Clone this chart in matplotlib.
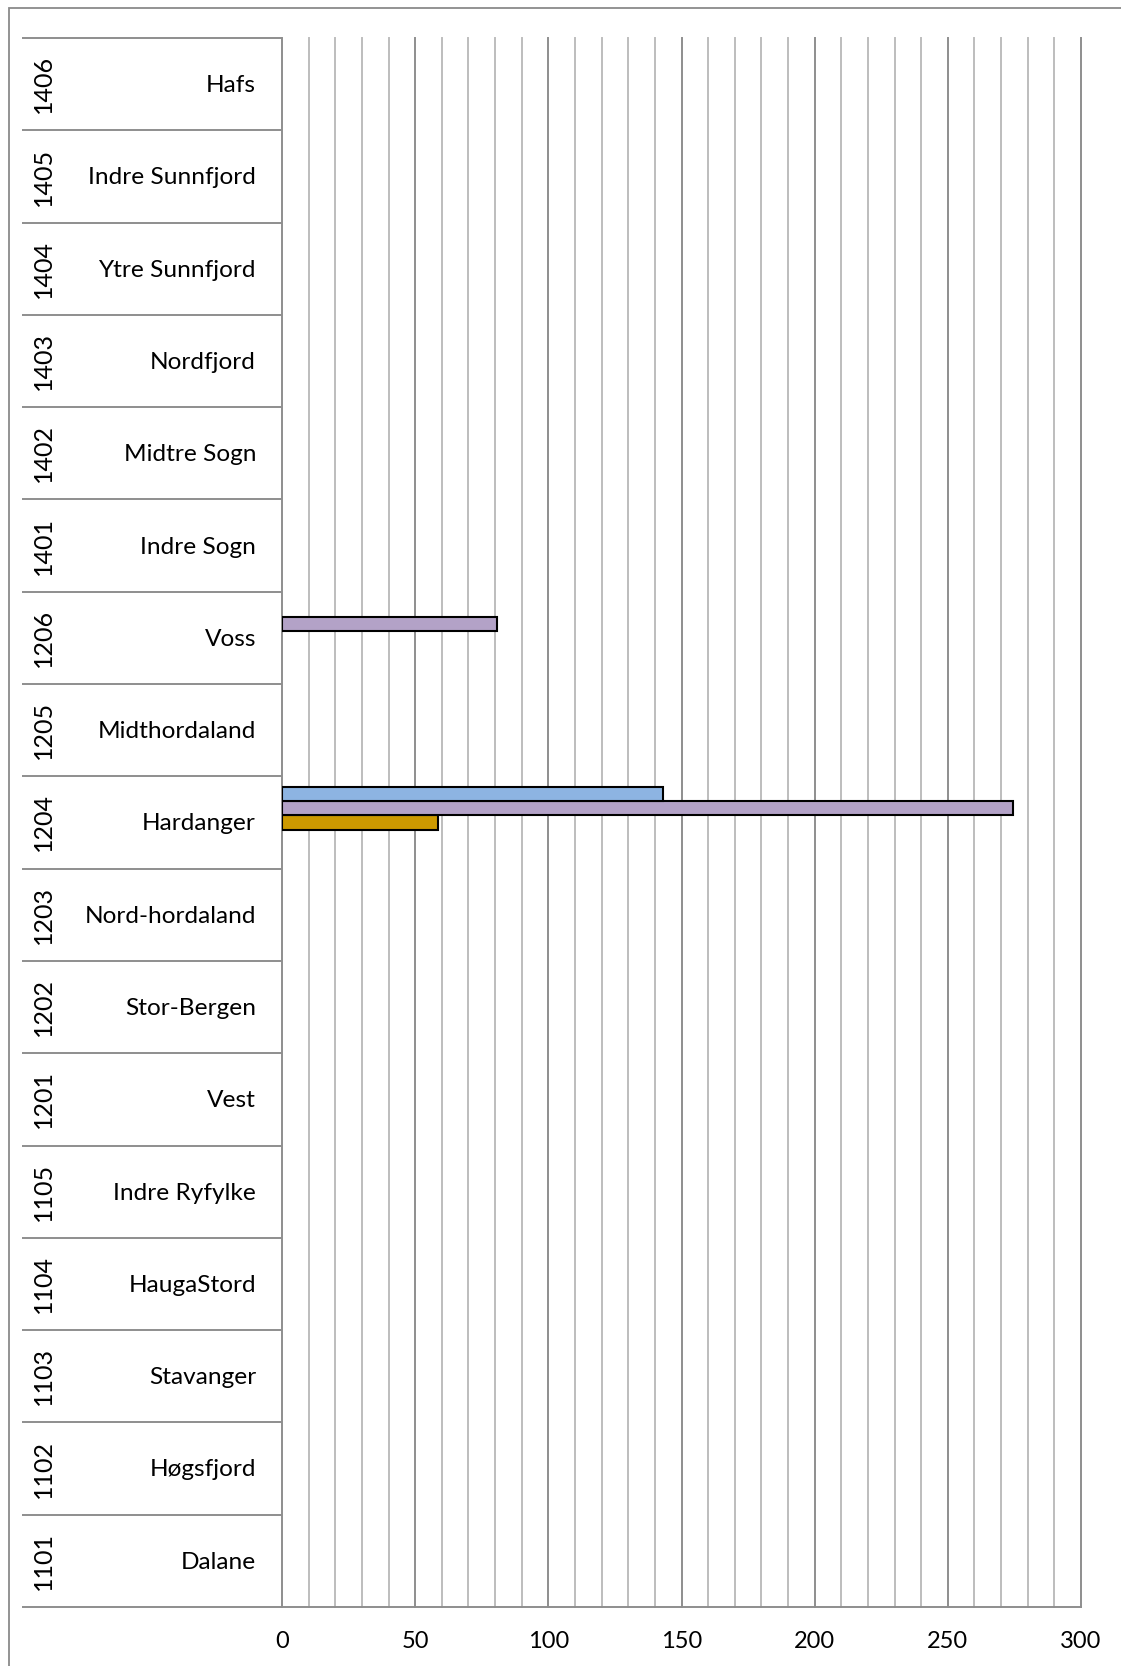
import matplotlib
matplotlib.use("Agg")
import matplotlib.pyplot as plt
from matplotlib.patches import Rectangle
import numpy as np

plt.rcParams["font.family"] = ["Lato", "DejaVu Sans"]

# regions, listed bottom to top as on the category axis
codes = ["1101", "1102", "1103", "1104", "1105", "1201", "1202", "1203", "1204",
         "1205", "1206", "1401", "1402", "1403", "1404", "1405", "1406"]
names = ["Dalane", "Høgsfjord", "Stavanger", "HaugaStord", "Indre Ryfylke", "Vest",
         "Stor-Bergen", "Nord-hordaland", "Hardanger", "Midthordaland", "Voss",
         "Indre Sogn", "Midtre Sogn", "Nordfjord", "Ytre Sunnfjord", "Indre Sunnfjord", "Hafs"]

# five series per region, first one sits lowest in each group
s1 = [0] * 17
s2 = [0] * 17
s3 = [0, 0, 0, 0, 0, 0, 0, 0, 58.6, 0, 0, 0, 0, 0, 0, 0, 0]
s4 = [0, 0, 0, 0, 0, 0, 0, 0, 274.5, 0, 80.7, 0, 0, 0, 0, 0, 0]
s5 = [0, 0, 0, 0, 0, 0, 0, 0, 143, 0, 0, 0, 0, 0, 0, 0, 0]
series = [s1, s2, s3, s4, s5]
colors = ["#4F81BD", "#C0504D", "#CC9900", "#B3A2C7", "#8DB4E2"]

x_ticks = [0, 50, 100, 150, 200, 250, 300]

W, H = 1121, 1666
fig = plt.figure(figsize=(W / 100, H / 100), dpi=100)
left, right, top, bottom = 282, 1081, 38, 1607
ax = fig.add_axes([left / W, 1 - bottom / H, (right - left) / W, (bottom - top) / H])

# outer chart border, open to the right and bottom
fig.patches.append(Rectangle((9 / W, -0.1), 1.2, 1.1 - 8 / H, transform=fig.transFigure,
                             fill=False, edgecolor="#8A8A8A", linewidth=1.3))

y = np.arange(len(codes))
bar_h = 1 / 6.5
for k, (vals, col) in enumerate(zip(series, colors)):
    offs = (k - 2) * bar_h
    v = np.array(vals, dtype=float)
    mask = v > 0
    ax.barh(y[mask] + offs, v[mask], height=bar_h, color=col,
            edgecolor="black", linewidth=1.5, zorder=3)

# vertical gridlines every 10, darker at each 50
for gx in range(10, 301, 10):
    c = "#8E8E8E" if gx % 50 == 0 else "#BDBDBD"
    ax.axvline(gx, color=c, linewidth=1.4, zorder=1, clip_on=False)

ax.set_xlim(0, 300)
ax.set_ylim(-0.5, len(codes) - 0.5)
ax.set_yticks([])
ax.set_xticks(x_ticks)
ax.tick_params(axis="x", length=0, pad=17.5, labelsize=17)
for s in ["top", "right"]:
    ax.spines[s].set_visible(False)
for s in ["left", "bottom"]:
    ax.spines[s].set_color("#8E8E8E")
    ax.spines[s].set_linewidth(1.4)

# category table on the left side
tr = ax.get_yaxis_transform()
x_tab = (22 - left) / (right - left)
for b in np.arange(-0.5, len(codes), 1.0):
    ax.plot([x_tab, 0], [b, b], color="#8E8E8E", lw=1.4,
            transform=tr, clip_on=False, solid_capstyle="butt")

x_name = (256 - left) / (right - left)
x_code = (43 - left) / (right - left)
for yi, code, name in zip(y, codes, names):
    ax.text(x_name, yi - 0.015, name, transform=tr, ha="right", va="center", fontsize=17.6)
    ax.text(x_code, yi, code, transform=tr, ha="center", va="center",
            rotation=90, fontsize=18)

fig.savefig("out.png", dpi=100)
